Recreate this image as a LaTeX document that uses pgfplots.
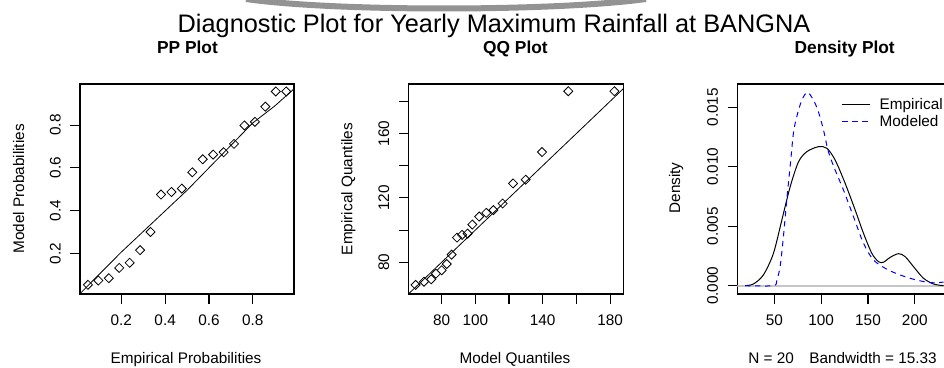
\documentclass[border=0pt]{standalone}
\usepackage{pgfplots}
\pgfplotsset{compat=1.18}
\usepackage{fontspec}
\setmainfont{Liberation Sans}

\pgfplotsset{
  rstyle/.style={
    scale only axis,
    anchor=south west,
    axis line style={line width=0.8pt},
    tick style={line width=0.8pt, black},
    tick align=outside,
    major tick length=7.2pt,
    xtick pos=bottom, ytick pos=left,
    ticklabel style={font=\fontsize{11.5}{13}\selectfont},
    yticklabel style={rotate=90, anchor=south},
    xticklabel shift=4.5pt,
    yticklabel shift=3.75pt,
  },
  dmark/.style={only marks, mark=square, mark size=2.4pt, mark options={rotate=45, line width=0.6pt, black, fill=none}},
}

\begin{document}
\begin{tikzpicture}
\useasboundingbox (0,0) rectangle (708pt,275.25pt);
\clip (0,0) rectangle (708pt,275.25pt);

% decorative grey swoosh at the top
\draw[gray!85, line width=4.5pt] (184.5pt,276pt) .. controls (250pt,266.5pt) and (415pt,266.5pt) .. (484.5pt,276pt);

% titles
\node[anchor=base, font=\fontsize{19}{22}\selectfont] at (370.5pt,250.5pt) {Diagnostic Plot for Yearly Maximum Rainfall at BANGNA};
\node[anchor=base, font=\bfseries\fontsize{13}{15}\selectfont] at (140.6pt,235.3pt) {PP Plot};
\node[anchor=base, font=\bfseries\fontsize{13}{15}\selectfont] at (386.6pt,235.3pt) {QQ Plot};
\node[anchor=base, font=\bfseries\fontsize{13}{15}\selectfont] at (633.5pt,235.3pt) {Density Plot};

% axis labels
\node[anchor=base, font=\fontsize{11.5}{13}\selectfont] at (139.5pt,2.25pt) {Empirical Probabilities};
\node[anchor=base, font=\fontsize{11.5}{13}\selectfont] at (386.25pt,2.25pt) {Model Quantiles};
\node[anchor=base, font=\fontsize{11.5}{13}\selectfont] at (631.9pt,2.25pt) {N = 20\quad Bandwidth = 15.33};
\node[anchor=base, rotate=90, font=\fontsize{11.5}{13}\selectfont] at (18pt,133.5pt) {Model Probabilities};
\node[anchor=base, rotate=90, font=\fontsize{11.5}{13}\selectfont] at (264.2pt,133.5pt) {Empirical Quantiles};
\node[anchor=base, rotate=90, font=\fontsize{11.5}{13}\selectfont] at (510pt,134.25pt) {Density};

% PP plot
\begin{axis}[rstyle, at={(60pt,54.75pt)}, width=160.5pt, height=157.5pt,
  xmin=0.0114, xmax=0.988, ymin=0.01, ymax=0.992,
  xtick={0.2,0.4,0.6,0.8}, xticklabels={0.2,0.4,0.6,0.8},
  ytick={0.2,0.4,0.6,0.8}, yticklabels={0.2,0.4,0.6,0.8}]
\addplot[black, line width=0.6pt] coordinates {(0,0) (0.2,0.206) (0.5,0.495) (0.8,0.81) (0.9,0.889) (0.98,0.962) (1,0.98)};
\addplot[dmark] table {
x y
0.0476 0.053
0.0952 0.073
0.1429 0.084
0.1905 0.132
0.2381 0.156
0.2857 0.215
0.3333 0.300
0.3810 0.475
0.4286 0.487
0.4762 0.503
0.5238 0.579
0.5714 0.640
0.6190 0.662
0.6667 0.673
0.7143 0.712
0.7619 0.798
0.8095 0.815
0.8571 0.886
0.9048 0.957
0.9524 0.957
};
\end{axis}

% QQ plot
\begin{axis}[rstyle, at={(306.5pt,54.75pt)}, width=161pt, height=157.5pt,
  xmin=60.4, xmax=187.9, ymin=60.25, ymax=190.8,
  xtick={80,100,120,140,160,180}, xticklabels={80,100,,140,,180},
  ytick={80,100,120,140,160,180}, yticklabels={80,,120,,160,}]
\addplot[black, line width=0.6pt] coordinates {(50,50) (200,200)};
\addplot[dmark] table {
x y
64.5 65.9
69.5 67.9
73.8 69.4
76.6 72.9
80.0 75.0
83.0 78.9
85.9 84.7
89.1 95.3
92.1 97.0
95.4 97.8
98.2 103.4
102.3 108.4
106.5 110.7
110.7 112.4
116.2 116.5
122.4 129.0
129.9 131.3
139.6 148.5
155.2 186.3
182.6 186.3
};
\end{axis}

% Density plot
\begin{axis}[rstyle, at={(553pt,54.75pt)}, width=161.5pt, height=157.5pt,
  xmin=10.4, xmax=240.5, ymin=-0.0007, ymax=0.01695,
  xtick={50,100,150,200}, xticklabels={50,100,150,200},
  ytick={0,0.005,0.010,0.015}, yticklabels={0.000,0.005,0.010,0.015},
  scaled y ticks=false,
  legend cell align=left,
  legend style={draw=none, fill=none, at={(axis description cs:0.465,0.96)}, anchor=north west,
    font=\fontsize{11.5}{13}\selectfont, column sep=5pt, row sep=-1pt},
  legend image code/.code={\draw[#1] (0pt,0pt) -- (20.7pt,0pt);}]
\addplot[gray!45, line width=1.4pt, forget plot] coordinates {(0,0) (300,0)};
\addplot[black, line width=0.75pt, smooth] table {
x y
18.7 0
27.5 0.00014
38.2 0.0009
48.9 0.0027
57.9 0.0055
66.8 0.0083
75.7 0.0104
84.6 0.01126
97.0 0.01168
106.0 0.01155
114.9 0.01056
125.6 0.0086
136.3 0.00636
145.2 0.0044
154.1 0.00272
161.2 0.00202
166.5 0.00197
173.7 0.00238
182.6 0.00269
189.7 0.00244
198.6 0.0016
209.3 0.00062
220.0 0.00014
230.7 0.0
};
\addlegendentry{Empirical}
\addplot[blue, dash pattern=on 4pt off 3.5pt, line width=0.75pt, smooth] table {
x y
18.7 0
48.9 0
52.6 0.00048
56.1 0.0016
59.6 0.0041
63.2 0.0072
66.8 0.0100
70.3 0.0128
73.9 0.0142
79.3 0.0156
85.3 0.01625
91.7 0.0156
97.0 0.01462
102.4 0.0131
107.7 0.01126
114.9 0.00972
123.8 0.00804
134.5 0.0058
145.2 0.00356
155.9 0.00216
170.2 0.00138
184.4 0.0009
198.6 0.00054
216.5 0.00025
230.7 0.0003
};
\addlegendentry{Modeled}
\end{axis}
\end{tikzpicture}
\end{document}
